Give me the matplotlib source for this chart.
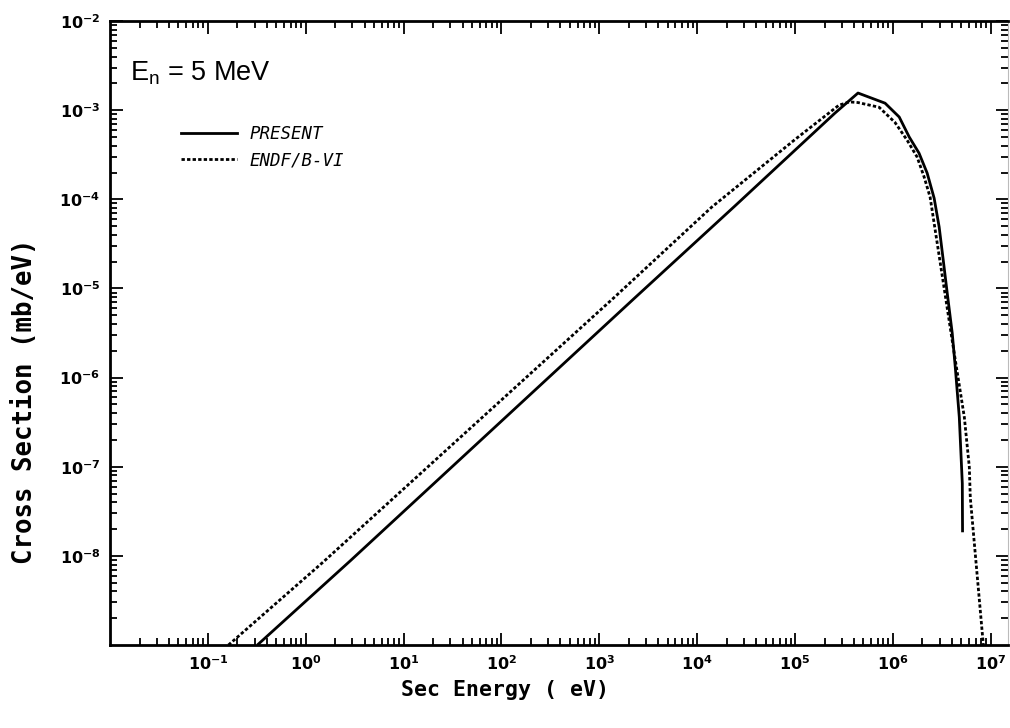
import matplotlib
matplotlib.use("Agg")
import matplotlib.pyplot as plt
from matplotlib.lines import Line2D
from matplotlib.ticker import FixedLocator, LogLocator, NullFormatter

# values (energy in eV, cross section in mb/eV)
present_energy = [0.32, 2.88, 2.29e3, 2.42e4, 2.56e5, 4.40e5, 8.32e5, 1.16e6,
                  1.47e6, 1.85e6, 2.24e6, 2.64e6, 2.97e6, 3.27e6, 3.59e6,
                  4.04e6, 4.34e6, 4.77e6, 5.12e6, 5.15e6]
present_xs = [1.0e-9, 8.9e-9, 7.8e-6, 8.4e-5, 9.3e-4, 1.56e-3, 1.20e-3, 8.4e-4,
              5.0e-4, 3.3e-4, 1.97e-4, 1.03e-4, 4.9e-5, 2.08e-5, 8.9e-6,
              3.15e-6, 1.31e-6, 3.6e-7, 6.5e-8, 1.84e-8]

endf_energy = [0.162, 1.5, 1.43e3, 1.41e4, 1.0e5, 2.81e5, 3.6e5, 4.4e5, 7.23e5,
               1.05e6, 1.40e6, 1.77e6, 2.09e6, 2.40e6, 2.84e6, 4.04e6, 5.37e6,
               6.04e6, 6.18e6, 8.40e6]
endf_xs = [1.0e-9, 8.5e-9, 8.0e-6, 8.2e-5, 4.7e-4, 1.14e-3, 1.24e-3, 1.22e-3,
           1.08e-3, 7.3e-4, 4.6e-4, 2.98e-4, 1.77e-4, 1.06e-4, 3.2e-5, 2.6e-6,
           3.6e-7, 9.9e-8, 4.5e-8, 1.0e-9]

x_label_exps = [-1, 0, 1, 2, 3, 4, 5, 6, 7]
y_label_exps = [-8, -7, -6, -5, -4, -3, -2]
series_labels = ["PRESENT", "ENDF/B-VI"]

fig = plt.figure(figsize=(10.10, 7.28), dpi=100)
ax = fig.add_axes([0.109, 0.114, 0.889, 0.857])

ax.plot(present_energy, present_xs, color="black", lw=2.0, solid_capstyle="butt")
ax.plot(endf_energy, endf_xs, color="black", lw=2.0, linestyle=(0, (1.2, 0.8)))

ax.set_xscale("log")
ax.set_yscale("log")
ax.set_xlim(1e-2, 1.5e7)
ax.set_ylim(1e-9, 1e-2)

ax.xaxis.set_major_locator(FixedLocator([10.0 ** e for e in x_label_exps]))
ax.set_xticklabels([r"$\mathbf{10^{%d}}$" % e for e in x_label_exps])
ax.yaxis.set_major_locator(FixedLocator([10.0 ** e for e in y_label_exps]))
ax.set_yticklabels([r"$\mathbf{10^{%d}}$" % e for e in y_label_exps])
for axis in (ax.xaxis, ax.yaxis):
    axis.set_minor_locator(LogLocator(base=10, subs=range(2, 10), numticks=30))
    axis.set_minor_formatter(NullFormatter())

ax.tick_params(which="both", direction="in", top=True, right=True,
               width=1.3, labelsize=11.5)
ax.tick_params(which="major", length=9, pad=7)
ax.tick_params(which="minor", length=5)

for side in ("left", "bottom", "top"):
    ax.spines[side].set_linewidth(2.0)
ax.spines["right"].set_linewidth(0.8)
ax.spines["right"].set_color("#bbbbbb")

ax.set_xlabel("Sec Energy ( eV)", family="DejaVu Sans Mono", fontsize=15.5,
              fontweight="bold")
ax.xaxis.set_label_coords(0.44, -0.056)
ax.set_ylabel("Cross Section (mb/eV)", family="DejaVu Sans Mono", fontsize=18.5,
              fontweight="bold")
ax.yaxis.set_label_coords(-0.080, 0.39)

ax.text(0.022, 0.905, r"$\mathregular{E_n}$ = 5 MeV", transform=ax.transAxes,
        family="Liberation Sans", fontsize=19.5)

handles = [Line2D([], [], color="black", lw=2.0),
           Line2D([], [], color="black", lw=2.0, linestyle=(0, (1.2, 0.8)))]
ax.legend(handles, series_labels, loc="upper left", bbox_to_anchor=(0.062, 0.858),
          frameon=False, handlelength=3.2, handletextpad=0.7, labelspacing=0.45,
          prop={"family": "DejaVu Sans Mono", "style": "italic", "size": 12.5})

fig.savefig("out.png", dpi=100)
